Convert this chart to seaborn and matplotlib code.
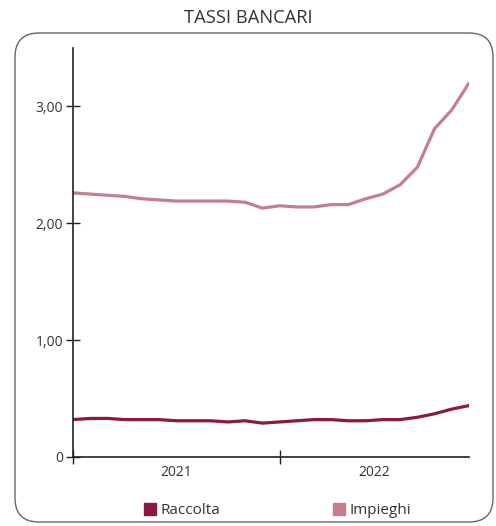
import numpy as np
import pandas as pd
import matplotlib
matplotlib.use("Agg")
import matplotlib.pyplot as plt
import seaborn as sns
from matplotlib.patches import FancyBboxPatch
from matplotlib.transforms import IdentityTransform
from matplotlib.lines import Line2D

# ------------------------------------------
# Data (monthly, Jan 2021 - Dec 2022)
# ------------------------------------------
months = list(range(24))
raccolta = [0.32, 0.33, 0.33, 0.32, 0.32, 0.32, 0.31, 0.31, 0.31, 0.30, 0.31, 0.29,
            0.30, 0.31, 0.32, 0.32, 0.31, 0.31, 0.32, 0.32, 0.34, 0.37, 0.41, 0.44]
impieghi = [2.26, 2.25, 2.24, 2.23, 2.21, 2.20, 2.19, 2.19, 2.19, 2.19, 2.18, 2.13,
            2.15, 2.14, 2.14, 2.16, 2.16, 2.21, 2.25, 2.33, 2.48, 2.81, 2.97, 3.20]
year_labels = ["2021", "2022"]
y_ticks = [0, 1, 2, 3]
y_tick_labels = ["0", "1,00", "2,00", "3,00"]

COLORS = {"Raccolta": "#8C1846", "Impieghi": "#C47F8C"}

df = pd.DataFrame({
    "Mese": months * 2,
    "Tasso": raccolta + impieghi,
    "Serie": ["Raccolta"] * 24 + ["Impieghi"] * 24,
})

# ------------------------------------------
# Plot
# ------------------------------------------
sns.set_style("white")
plt.rcParams["font.family"] = ["Open Sans", "DejaVu Sans"]

fig = plt.figure(figsize=(4.96, 5.26), dpi=100)
ax = fig.add_axes([73 / 496, 1 - 457 / 526, 396 / 496, 409 / 526])

sns.lineplot(data=df, x="Mese", y="Tasso", hue="Serie", palette=COLORS,
             linewidth=2.3, ax=ax, legend=False, solid_capstyle="round",
             solid_joinstyle="round")

ax.set_xlim(0, 23)
ax.set_ylim(0, 3.5)
ax.set_xlabel("")
ax.set_ylabel("")

ax.set_yticks(y_ticks)
ax.set_yticklabels(y_tick_labels)
ax.set_xticks([0, 12])
ax.set_xticklabels([])
ax.set_xticks([6, 17.5], minor=True)
ax.set_xticklabels(year_labels, minor=True)

ax.tick_params(axis="both", which="major", direction="inout", length=10,
               width=1, color="#222222", labelsize=10, labelcolor="#333333",
               bottom=True, left=True)
ax.tick_params(axis="x", which="minor", length=0, pad=6, labelsize=10,
               labelcolor="#333333", bottom=True)
ax.tick_params(axis="y", pad=2)

sns.despine(ax=ax)
for side in ["left", "bottom"]:
    ax.spines[side].set_color("#222222")
    ax.spines[side].set_linewidth(1.2)

# title and frame
fig.text(0.5, 1 - 18 / 526, "TASSI BANCARI", ha="center", va="center",
         fontsize=13.2, color="#333333")
frame = FancyBboxPatch((15, 4), 478, 489, boxstyle="round,pad=0,rounding_size=24",
                       transform=IdentityTransform(), facecolor="none",
                       edgecolor="#666666", linewidth=1.0)
fig.patches.append(frame)

handles = [Line2D([], [], marker="s", linestyle="none", markersize=8,
                  markerfacecolor=COLORS[k], markeredgecolor=COLORS[k])
           for k in ["Raccolta", "Impieghi"]]
fig.legend(handles, ["Raccolta", "Impieghi"], loc="center",
           bbox_to_anchor=(276 / 496, 1 - 511 / 526), ncol=2, frameon=False,
           fontsize=11, handletextpad=0.05, columnspacing=7.2,
           handlelength=1.2, labelcolor="#333333")

fig.savefig("out.png", dpi=100)
